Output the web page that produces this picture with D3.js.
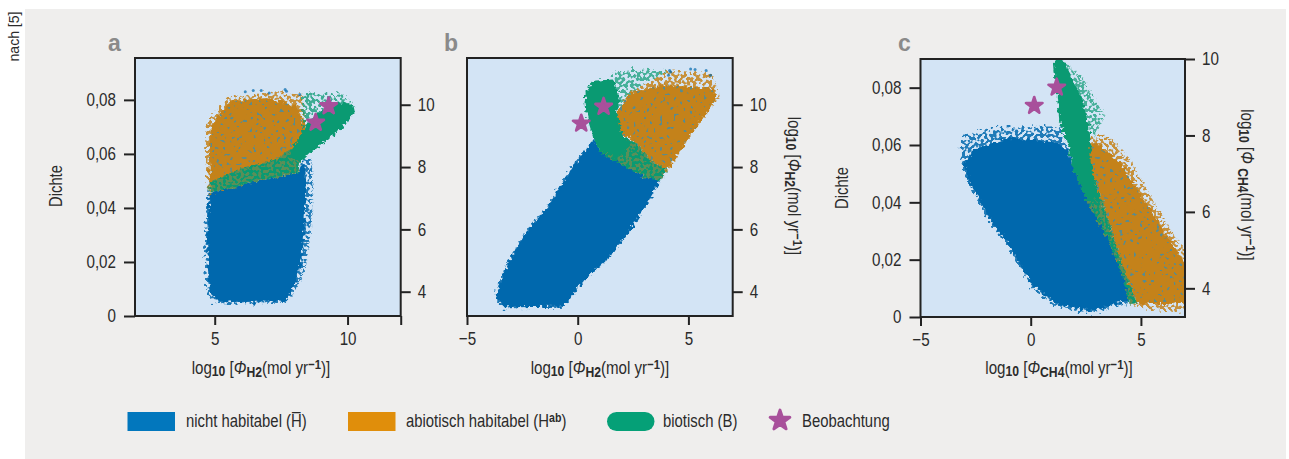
<!DOCTYPE html>
<html><head><meta charset="utf-8">
<script src="https://cdnjs.cloudflare.com/ajax/libs/d3/7.8.5/d3.min.js"></script>
<style>
html,body{margin:0;padding:0;background:#fff}
svg{display:block}
text{font-family:"Liberation Sans",sans-serif;fill:#2b2b2b}
.tick text{font-size:18.5px}
.lab{font-size:18px}
.leg{font-size:17.5px}
</style></head><body>
<svg id="c" width="1289" height="459"></svg>
<script>
// Outlines of the point clouds: [x, y] in axis units
const aBlueExtent=[[4.80,.0456],[4.70,.0357],[4.64,.0246],[4.70,.0147],[4.72,.0091],[5.01,.0048],[5.83,.0046],[7.71,.0048],[8.15,.0110],[8.46,.0184],[8.65,.0307],[8.71,.0406],[8.73,.0517],[8.65,.0579],[8.33,.0573],[8.15,.0530],[6.58,.0499],[5.58,.0474]];
const aBlueCore=[[4.82,.0456],[4.74,.0357],[4.72,.0246],[4.76,.0147],[4.85,.0091],[5.10,.0056],[5.83,.0052],[7.65,.0054],[8.00,.0110],[8.22,.0184],[8.36,.0307],[8.40,.0406],[8.40,.0517],[8.33,.0573],[8.15,.0530],[6.58,.0499],[5.58,.0474]];
const aOrangeExtent=[[4.70,.0715],[5.20,.0770],[5.58,.0814],[7.08,.0826],[8.33,.0820],[8.46,.0715],[8.08,.0628],[7.83,.0554],[6.58,.0505],[5.58,.0474],[4.80,.0456],[4.67,.0591]];
const aOrangeCore=[[4.85,.0702],[5.20,.0746],[5.58,.0795],[6.95,.0807],[8.08,.0777],[8.40,.0702],[8.08,.0628],[7.83,.0554],[6.58,.0505],[5.58,.0474],[4.82,.0470],[4.80,.0591]];
const aGreenSparse=[[8.33,.0814],[8.46,.0826],[9.84,.0820],[10.28,.0783],[8.83,.0727],[8.33,.0678]];
const aGreenMixed=[[4.80,.0456],[4.82,.0493],[5.95,.0542],[7.33,.0579],[7.96,.0622],[8.33,.0672],[8.21,.0573],[8.15,.0530],[6.58,.0499],[5.58,.0474]];
const aGreenCore=[[7.80,.0595],[8.30,.0685],[8.80,.0745],[9.65,.0790],[10.21,.0785],[10.28,.0752],[9.84,.0700],[9.09,.0642],[8.58,.0605],[8.21,.0570]];

const bBlueExtent=[[-3.68,3.79],[-3.53,4.27],[-3.16,4.91],[-2.26,5.98],[-1.36,6.73],[-0.61,7.58],[-0.01,8.22],[0.73,8.87],[1.03,8.49],[1.93,8.12],[2.98,7.69],[3.73,7.58],[3.13,6.83],[2.38,5.98],[1.33,5.02],[0.43,4.48],[-0.31,3.84],[-0.61,3.52],[-3.31,3.50]];
const bGreenCore=[[0.31,10.04],[0.36,10.42],[0.73,10.77],[1.63,10.81],[1.86,10.26],[1.78,9.72],[2.01,9.08],[2.38,8.76],[1.78,8.28],[1.03,8.49],[0.73,8.87],[0.51,9.40]];
const bGreenMixed=[[1.78,9.08],[2.68,8.76],[3.28,8.22],[4.03,7.90],[3.73,7.56],[2.98,7.69],[1.93,8.10],[1.03,8.44]];
const bGreenSparse=[[1.48,11.06],[2.98,11.13],[4.18,11.06],[2.98,10.68],[2.23,10.15],[1.86,9.83],[1.71,10.79]];
const bOrangeExtent=[[1.86,9.83],[2.38,10.36],[3.13,10.68],[4.18,11.11],[6.12,11.01],[6.42,10.28],[5.97,9.88],[5.07,8.97],[4.03,7.90],[3.28,8.22],[2.68,8.76],[2.01,9.08],[1.78,9.51]];
const bOrangeCore=[[1.86,9.83],[2.38,10.36],[3.88,10.63],[6.12,10.52],[6.24,10.20],[5.97,9.88],[5.07,8.97],[4.03,7.90],[3.28,8.22],[2.68,8.76],[2.01,9.08],[1.78,9.51]];

const cBlueExtent=[[-3.11,.0630],[-1.62,.0659],[1.38,.0665],[1.71,.0595],[1.83,.0537],[2.57,.0409],[3.47,.0281],[4.22,.0142],[4.67,.0049],[2.72,.0014],[1.08,.0037],[0.03,.0107],[-1.02,.0247],[-1.92,.0340],[-2.81,.0467],[-3.14,.0549]];
const cBlueCore=[[-3.00,.0530],[-2.59,.0584],[-1.02,.0624],[1.08,.0613],[1.71,.0580],[1.83,.0537],[2.57,.0409],[3.47,.0281],[4.22,.0142],[4.50,.0060],[2.72,.0022],[1.15,.0045],[0.10,.0110],[-0.98,.0250],[-1.88,.0345],[-2.75,.0467]];
const cGreenCore=[[1.03,.0905],[1.50,.0895],[2.28,.0770],[2.65,.0665],[2.70,.0630],[2.72,.0537],[3.17,.0409],[2.57,.0403],[1.83,.0537],[1.71,.0595],[1.30,.0680],[1.15,.0800]];
const cGreenMixed=[[1.83,.0537],[2.65,.0537],[3.32,.0386],[4.07,.0200],[4.82,.0049],[4.49,.0043],[4.22,.0136],[3.47,.0276],[2.57,.0403]];
const cGreenSparse=[[1.56,.0895],[2.43,.0828],[3.40,.0700],[2.87,.0630],[2.65,.0688]];
const cOrangeExtent=[[2.65,.0624],[3.62,.0630],[4.52,.0549],[5.57,.0409],[6.47,.0293],[7.07,.0223],[7.07,.0014],[4.97,.0037],[4.52,.0043],[4.82,.0049],[4.07,.0200],[3.32,.0386],[2.65,.0537]];
const cOrangeCore=[[2.70,.0600],[3.02,.0607],[4.07,.0537],[4.67,.0467],[5.42,.0374],[6.47,.0247],[7.07,.0177],[7.07,.0049],[4.67,.0049],[4.82,.0049],[4.07,.0200],[3.32,.0386],[2.65,.0537]];

// Observations
const aObs=[[8.80,.0716],[9.29,.0777]];
const bObs=[[0.16,9.40],[1.17,9.94]];
const cObs=[[0.16,.0737],[1.18,.0801]];
// Isolated points at the top of the clouds
const aStray=[[6.15,.0830],[6.45,.0835],[6.75,.0835],[7.05,.0825],[7.70,.0832],[7.65,.0838],[8.20,.0820]];
const bStray=[[4.10,10.95],[4.15,11.10],[4.20,11.05],[5.10,11.15],[5.30,11.13],[5.80,11.10],[6.00,10.95]];

const densTicks=[0,.02,.04,.06,.08];
const fluxTicks=[4,6,8,10];
const colBlue="#0068ad",colOrange="#c4821a",colGreen="#0a9a72",colStar="#a8509b",
      speck="#5b8b8c",mixBase="#5a8f58";

const svg=d3.select("#c");
// squeeze single-run text horizontally to the condensed width of the original type
function narrow(sel,f){
  sel.each(function(){
    const w=this.getComputedTextLength();
    d3.select(this).attr("textLength",w*f).attr("lengthAdjust","spacingAndGlyphs");
  });
}
svg.append("rect").attr("x",25).attr("y",9).attr("width",1261).attr("height",450).attr("fill","#efeeed");
svg.append("text").attr("transform","translate(19,36.5) rotate(-90)").attr("text-anchor","middle").style("font-size","14px").attr("textLength",50).attr("lengthAdjust","spacingAndGlyphs").text("nach [5]");

const defs=svg.append("defs");
function mkFilter(id,freq,seed,k,b,disp,blur){
  const f=defs.append("filter").attr("id",id).attr("x","-15%").attr("y","-15%").attr("width","130%").attr("height","130%").attr("color-interpolation-filters","sRGB");
  f.append("feTurbulence").attr("type","fractalNoise").attr("baseFrequency",freq).attr("numOctaves",1).attr("seed",seed).attr("result","n");
  f.append("feDisplacementMap").attr("in","SourceGraphic").attr("in2","n").attr("scale",disp).attr("xChannelSelector","R").attr("yChannelSelector","G").attr("result","d");
  if(k!==null){
    f.append("feColorMatrix").attr("in","n").attr("type","matrix").attr("values",`0 0 0 0 0 0 0 0 0 0 0 0 0 0 0 ${k} 0 0 0 ${b}`).attr("result","m");
    f.append("feComposite").attr("in","d").attr("in2","m").attr("operator","in").attr("result","d");
  }
  f.append("feGaussianBlur").attr("in","d").attr("stdDeviation",blur);
}
mkFilter("rough",.3,4,null,null,9,.4);
mkFilter("sparse",.32,7,14,-6.4,14,.35);
mkFilter("mixed",.34,11,14,-6.4,5,.35);
mkFilter("specks",.3,19,20,-12.6,3,.4);

function panel(o){
  const x=d3.scaleLinear().domain(o.xd).range([o.l,o.r]);
  const y=d3.scaleLinear().domain(o.yd).range([o.b,o.t]);
  const clipId="clip"+o.name;
  defs.append("clipPath").attr("id",clipId).append("rect").attr("x",o.l).attr("y",o.t).attr("width",o.r-o.l).attr("height",o.b-o.t);
  svg.append("rect").attr("x",o.l).attr("y",o.t).attr("width",o.r-o.l).attr("height",o.b-o.t).attr("fill","#d3e4f5");
  const g=svg.append("g").attr("clip-path",`url(#${clipId})`);
  const line=d3.line().x(d=>x(d[0])).y(d=>y(d[1])).curve(d3.curveLinearClosed);
  o.layers.forEach(([pts,col,flt,op])=>{
    g.append("g").attr("filter",`url(#${flt})`).append("path").attr("d",line(pts)).attr("fill",col).attr("opacity",op||1);
  });
  g.selectAll("circle.s").data(o.stray||[]).join("circle").attr("class","s")
    .attr("cx",d=>x(d[0])).attr("cy",d=>y(d[1])).attr("r",1.5).attr("fill",colBlue).attr("opacity",.7);
  // observations
  const star=d3.symbol().type(d3.symbolStar).size(85);
  g.selectAll("path.o").data(o.obs).join("path").attr("class","o")
    .attr("d",star).attr("fill",colStar).attr("stroke",colStar).attr("stroke-width",2.6).attr("stroke-linejoin","round")
    .attr("transform",d=>`translate(${x(d[0])},${y(d[1])})`);
  // frame
  svg.append("rect").attr("x",o.l).attr("y",o.t).attr("width",o.r-o.l).attr("height",o.b-o.t).attr("fill","none").attr("stroke","#222").attr("stroke-width",2);
  const st=s=>{s.select(".domain").remove();s.selectAll(".tick line").attr("stroke","#222").attr("stroke-width",2);narrow(s.selectAll(".tick text"),.82);};
  // bottom axis
  svg.append("g").attr("transform",`translate(0,${o.b})`)
    .call(d3.axisBottom(x).tickValues(o.xt).tickSize(9).tickPadding(7).tickFormat(d=>o.xl.includes(d)?String(d).replace("-","\u2212"):""))
    .call(st);
  // density axis
  if(o.left){
    svg.append("g").attr("transform",`translate(${o.l},0)`)
      .call(d3.axisLeft(y).tickValues(densTicks).tickSize(11).tickPadding(8).tickFormat(d=>d===0?"0":d.toFixed(2).replace(".",",")))
      .call(st);
    svg.append("text").attr("class","lab").attr("text-anchor","middle").attr("transform",`translate(${o.l-73},${o.left}) rotate(-90)`).text("Dichte").call(narrow,.82);
  }
  // flux axis
  const yr=d3.scaleLinear().domain(o.rd).range([o.b,o.t]);
  svg.append("g").attr("transform",`translate(${o.r},0)`)
    .call(d3.axisRight(yr).tickValues(fluxTicks).tickSize(10).tickPadding(7).tickFormat(d3.format("d")))
    .call(st);
  // titles: condensed with a horizontal scale so every run keeps its own box
  const lbl=(t,sub,gap)=>{
    t.attr("class","lab").attr("text-anchor","middle");
    t.append("tspan").text("log");
    t.append("tspan").attr("dy",2).style("font-size","14.5px").style("font-weight","bold").text("10");
    t.append("tspan").attr("dy",-2).text(" [");
    t.append("tspan").style("font-style","italic").text("\u03A6");
    if(gap) t.append("tspan").text(" ");
    t.append("tspan").attr("dy",3).style("font-size","14.5px").style("font-weight","bold").text(sub);
    t.append("tspan").attr("dy",-3).text("(mol yr");
    t.append("tspan").attr("dy",-5).style("font-size","13.5px").style("font-weight","bold").text("\u22121");
    t.append("tspan").attr("dy",5).text(")]");
  };
  lbl(svg.append("text").attr("transform",`translate(${o.xlab},374) scale(.84,1)`),o.sub,false);
  if(o.rlab) lbl(svg.append("text").attr("transform",`translate(${o.rlab},${o.rmid}) rotate(90) scale(.84,1)`),o.sub,o.gap);
  svg.append("text").attr("x",o.px).attr("y",51).style("font-size","23px").style("font-weight","bold").style("fill","#8a8a8a").text(o.name);
}

panel({name:"a",l:135,r:400.7,t:58,b:316,xd:[2,12],yd:[0,.0955],rd:[3.22,11.5],xt:[5,10,12],xl:[5,10],left:186,xlab:261,px:108,sub:"H2",obs:aObs,stray:aStray,
 layers:[[aBlueExtent,colBlue,"sparse",.85],[aBlueCore,colBlue,"rough"],[aOrangeExtent,colOrange,"sparse",.85],[aOrangeCore,colOrange,"rough"],[aOrangeCore,speck,"specks"],[aGreenSparse,colGreen,"sparse",.75],[aGreenMixed,mixBase,"rough"],[aGreenMixed,colGreen,"mixed"],[aGreenCore,colGreen,"rough"]]});
panel({name:"b",l:467,r:732.7,t:58,b:316,xd:[-5,7],yd:[3.22,11.5],rd:[3.22,11.5],xt:[-5,0,5],xl:[-5,0,5],xlab:600,px:444,sub:"H2",rlab:788,rmid:186,obs:bObs,stray:bStray,
 layers:[[bBlueExtent,colBlue,"sparse",.85],[bBlueExtent,colBlue,"rough"],[bGreenSparse,colGreen,"sparse",.7],[bOrangeExtent,colOrange,"sparse",.85],[bOrangeCore,colOrange,"rough"],[bOrangeCore,speck,"specks"],[bGreenMixed,mixBase,"rough"],[bGreenMixed,colGreen,"mixed"],[bGreenCore,colGreen,"rough"]]});
panel({name:"c",l:920.5,r:1185,t:59,b:317,xd:[-5,7],yd:[0,.09],rd:[3.25,10],xt:[-5,0,5],xl:[-5,0,5],left:188,xlab:1059,px:898,sub:"CH4",gap:true,rlab:1241,rmid:185,obs:cObs,
 layers:[[cBlueExtent,colBlue,"sparse",.85],[cBlueCore,colBlue,"rough"],[cOrangeExtent,colOrange,"sparse",.85],[cOrangeCore,colOrange,"rough"],[cOrangeCore,speck,"specks"],[cGreenSparse,colGreen,"sparse",.7],[cGreenMixed,mixBase,"rough"],[cGreenMixed,colGreen,"mixed"],[cGreenCore,colGreen,"rough"]]});

// legend
const legendItems=["nicht habitabel (H\u0305)","abiotisch habitabel (H","biotisch (B)","Beobachtung"];
svg.append("rect").attr("x",127.5).attr("y",412).attr("width",47.5).attr("height",19).attr("fill","#0277bd");
svg.append("rect").attr("x",348).attr("y",412).attr("width",47.5).attr("height",19).attr("fill","#e08e0b");
svg.append("rect").attr("x",607).attr("y",412).attr("width",47.5).attr("height",19).attr("rx",9.5).attr("fill","#05a077");
svg.append("path").attr("d",d3.symbol().type(d3.symbolStar).size(120)).attr("transform","translate(780,420.5)").attr("fill",colStar).attr("stroke",colStar).attr("stroke-width",3).attr("stroke-linejoin","round");
svg.append("text").attr("class","leg").attr("x",186).attr("y",427).text(legendItems[0]).call(narrow,.85);
const t2=svg.append("text").attr("class","leg").attr("transform","translate(406,427) scale(.85,1)");
t2.append("tspan").text(legendItems[1]);
t2.append("tspan").attr("dy",-5).style("font-size","12.5px").style("font-weight","bold").text("ab");
t2.append("tspan").attr("dy",5).text(")");
svg.append("text").attr("class","leg").attr("x",663).attr("y",427).text(legendItems[2]).call(narrow,.85);
svg.append("text").attr("class","leg").attr("x",802).attr("y",427).text(legendItems[3]).call(narrow,.85);
</script></body></html>
